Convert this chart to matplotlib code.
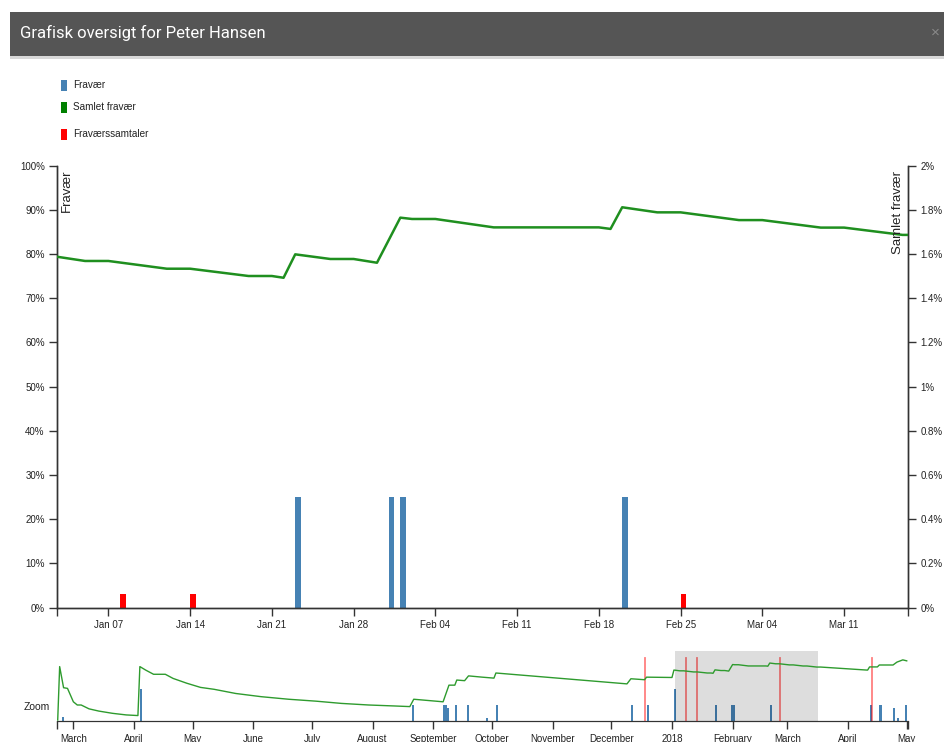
import matplotlib
matplotlib.use('Agg')
import matplotlib.pyplot as plt
import matplotlib.dates as mdates
from matplotlib.patches import Rectangle
import pandas as pd

plt.rcParams['font.family'] = ['Liberation Sans', 'DejaVu Sans']

W, H = 944, 742

# ---------------- data ----------------
fravaer_dates = ['2017-02-23', '2017-04-04', '2017-08-21', '2017-09-06', '2017-09-07',
                 '2017-09-08', '2017-09-12', '2017-09-18', '2017-09-28', '2017-10-03',
                 '2017-12-11', '2017-12-19', '2018-01-02', '2018-01-23', '2018-01-31',
                 '2018-02-01', '2018-02-20', '2018-04-12', '2018-04-17', '2018-04-24',
                 '2018-04-26', '2018-04-30']
fravaer_values = [6, 50, 25, 25, 25, 20, 25, 25, 5, 25, 25, 25, 50, 25, 25, 25, 25,
                  25, 25, 20, 5, 25]

samtale_dates = ['2017-12-18', '2018-01-08', '2018-01-14', '2018-02-25', '2018-04-13']
samtale_values = [3, 3, 3, 3, 3]

samlet_dates = ['2017-02-21', '2017-02-22', '2017-02-24', '2017-02-26', '2017-03-01',
                '2017-03-03', '2017-03-05', '2017-03-09', '2017-03-14', '2017-03-21',
                '2017-03-28', '2017-04-03', '2017-04-04', '2017-04-07', '2017-04-11',
                '2017-04-17', '2017-04-21', '2017-04-28', '2017-05-05', '2017-05-12',
                '2017-05-23', '2017-06-05', '2017-06-19', '2017-07-03', '2017-07-16',
                '2017-07-30', '2017-08-12', '2017-08-20', '2017-08-22', '2017-09-06',
                '2017-09-09', '2017-09-12', '2017-09-13', '2017-09-17', '2017-09-19',
                '2017-09-26', '2017-10-02', '2017-10-03', '2017-12-09', '2017-12-11',
                '2017-12-18', '2017-12-19', '2018-01-01', '2018-01-02', '2018-01-05',
                '2018-01-07', '2018-01-12', '2018-01-14', '2018-01-19', '2018-01-21',
                '2018-01-22', '2018-01-23', '2018-01-26', '2018-01-28', '2018-01-30',
                '2018-02-01', '2018-02-02', '2018-02-04', '2018-02-09', '2018-02-18',
                '2018-02-19', '2018-02-20', '2018-02-23', '2018-02-25', '2018-03-02',
                '2018-03-04', '2018-03-09', '2018-03-11', '2018-03-16', '2018-03-18',
                '2018-04-11', '2018-04-12', '2018-04-16', '2018-04-17', '2018-04-24',
                '2018-04-26', '2018-04-29', '2018-05-01']
samlet_values = [0.03, 1.70, 1.04, 1.02, 0.60,
                 0.50, 0.50, 0.38, 0.31, 0.24,
                 0.19, 0.17, 1.70, 1.59, 1.46,
                 1.46, 1.33, 1.18, 1.05, 0.99,
                 0.86, 0.76, 0.68, 0.62, 0.55,
                 0.50, 0.47, 0.45, 0.68, 0.60,
                 1.12, 1.12, 1.28, 1.26, 1.41,
                 1.37, 1.34, 1.50, 1.16, 1.32,
                 1.29, 1.37, 1.36, 1.592, 1.568,
                 1.568, 1.533, 1.533, 1.500, 1.500,
                 1.492, 1.598, 1.577, 1.577, 1.560,
                 1.764, 1.758, 1.758, 1.720, 1.720,
                 1.713, 1.811, 1.788, 1.788, 1.753,
                 1.753, 1.719, 1.719, 1.686, 1.686,
                 1.59, 1.69, 1.69, 1.75, 1.75,
                 1.84, 1.91, 1.88]

main_range = ['2018-01-02 15:00', '2018-03-16 12:00']
zoom_range = ['2017-02-20 19:00', '2018-05-01 12:00']

main_tick_dates = ['2018-01-07', '2018-01-14', '2018-01-21', '2018-01-28', '2018-02-04',
                   '2018-02-11', '2018-02-18', '2018-02-25', '2018-03-04', '2018-03-11']
main_tick_labels = ['Jan 07', 'Jan 14', 'Jan 21', 'Jan 28', 'Feb 04',
                    'Feb 11', 'Feb 18', 'Feb 25', 'Mar 04', 'Mar 11']
left_ticks = [0, 10, 20, 30, 40, 50, 60, 70, 80, 90, 100]
left_labels = ['0%', '10%', '20%', '30%', '40%', '50%', '60%', '70%', '80%', '90%', '100%']
right_ticks = [0, 0.2, 0.4, 0.6, 0.8, 1.0, 1.2, 1.4, 1.6, 1.8, 2.0]
right_labels = ['0%', '0.2%', '0.4%', '0.6%', '0.8%', '1%', '1.2%', '1.4%', '1.6%', '1.8%', '2%']
zoom_tick_dates = ['2017-03-01', '2017-04-01', '2017-05-01', '2017-06-01', '2017-07-01',
                   '2017-08-01', '2017-09-01', '2017-10-01', '2017-11-01', '2017-12-01',
                   '2018-01-01', '2018-02-01', '2018-03-01', '2018-04-01', '2018-05-01']
zoom_tick_labels = ['March', 'April', 'May', 'June', 'July', 'August', 'September',
                    'October', 'November', 'December', '2018', 'February', 'March',
                    'April', 'May']

fd = pd.to_datetime(fravaer_dates)
sd = pd.to_datetime(samtale_dates)
ld = pd.to_datetime(samlet_dates)
mr = pd.to_datetime(main_range)
zr = pd.to_datetime(zoom_range)

# ---------------- colours ----------------
BLUE = '#4682b4'
GREEN = '#1f8f1f'
RED = '#ff0000'
AXC = '#333333'
TXT = '#222222'


def fx(px):
    return px / W


def fy(py):
    return 1 - py / H


fig = plt.figure(figsize=(W / 100, H / 100), dpi=100)
fig.patch.set_facecolor('white')

# title bar
fig.patches.append(Rectangle((fx(10), fy(56)), fx(W - 10), 44 / H, transform=fig.transFigure,
                             facecolor='#555555', edgecolor='none', zorder=0))
fig.patches.append(Rectangle((fx(10), fy(58.5)), fx(W - 10), 2.5 / H, transform=fig.transFigure,
                             facecolor='#d8d8d8', edgecolor='none', zorder=0))
fig.text(fx(20), fy(33), 'Grafisk oversigt for Peter Hansen', color='white',
         fontsize=12, va='center', ha='left',
         family=['Roboto', 'Open Sans', 'DejaVu Sans'])
fig.text(fx(931), fy(33), '×', color='#8a8a8a', fontsize=11, va='center', ha='left')

# legend
leg_items = [('Fravær', BLUE, 85), ('Samlet fravær', '#008000', 107), ('Fraværssamtaler', RED, 134)]
for label, col, yc in leg_items:
    fig.patches.append(Rectangle((fx(61), fy(yc + 5.5)), 6 / W, 11 / H, transform=fig.transFigure,
                                 facecolor=col, edgecolor='none'))
    fig.text(fx(73), fy(yc), label, color=TXT, fontsize=7.2, va='center', ha='left')

# ---------------- main chart ----------------
ax = fig.add_axes([fx(57.3), fy(607.5), (908.3 - 57.3) / W, (607.5 - 165.5) / H])
ax2 = ax.twinx()

ax.bar(fd, fravaer_values, width=0.5, align='edge', color=BLUE, zorder=2)
ax.bar(sd, samtale_values, width=0.5, align='edge', color=RED, zorder=2)
ax2.plot(ld, samlet_values, color=GREEN, lw=1.8, zorder=3)

ax.set_xlim(mr[0], mr[1])
ax.set_ylim(0, 100)
ax2.set_ylim(0, 2)

ax.set_xticks(pd.to_datetime(main_tick_dates))
ax.set_xticklabels(main_tick_labels)
ax.set_xticks([mdates.date2num(mr[0]), mdates.date2num(mr[1])], minor=True)
ax.set_yticks(left_ticks)
ax.set_yticklabels(left_labels)
ax2.set_yticks(right_ticks)
ax2.set_yticklabels(right_labels)

for a in (ax, ax2):
    a.spines['top'].set_visible(False)
    for s in a.spines.values():
        s.set_color(AXC)
        s.set_linewidth(1)
    a.tick_params(which='both', direction='out', length=6, width=1, color=AXC,
                  labelsize=7, labelcolor=TXT, pad=3)
ax.patch.set_alpha(0)

fig.text(fx(61), fy(169), 'Fravær', rotation=90, ha='left', va='top', fontsize=9.5, color=TXT)
fig.text(fx(904), fy(171), 'Samlet fravær', rotation=90, ha='right', va='top', fontsize=9.5,
         color=TXT)

# ---------------- zoom chart ----------------
az = fig.add_axes([fx(57.3), fy(721), (907.7 - 57.3) / W, 70 / H])
az2 = az.twinx()

az.bar(fd, fravaer_values, width=1.2, align='edge', color=BLUE, zorder=2)
for d in sd:
    az.axvline(d, ymin=0, ymax=0.9, color=RED, alpha=0.5, lw=1.3, zorder=2)
az2.axvspan(mr[0], mr[1], color='black', alpha=0.135, lw=0, zorder=1)
az2.plot(ld, samlet_values, color='#2e9b2e', lw=1.0, zorder=3)

az.set_xlim(zr[0], zr[1])
az.set_ylim(0, 109.4)
az2.set_ylim(0, 2.1875)
az.set_xticks(pd.to_datetime(zoom_tick_dates))
az.set_xticklabels(zoom_tick_labels)
az.set_xticks([mdates.date2num(zr[0]), mdates.date2num(zr[1])], minor=True)
for a in (az, az2):
    for k in ('top', 'left', 'right'):
        a.spines[k].set_visible(False)
    a.set_yticks([])
    a.spines['bottom'].set_color(AXC)
    a.tick_params(which='both', direction='out', length=6, width=1, color=AXC,
                  labelsize=7, labelcolor=TXT, pad=3)
az.patch.set_alpha(0)
az2.patch.set_alpha(0)

fig.text(fx(24), fy(706.5), 'Zoom', fontsize=7.5, color=TXT, va='center', ha='left')

fig.savefig('out.png', dpi=100)
